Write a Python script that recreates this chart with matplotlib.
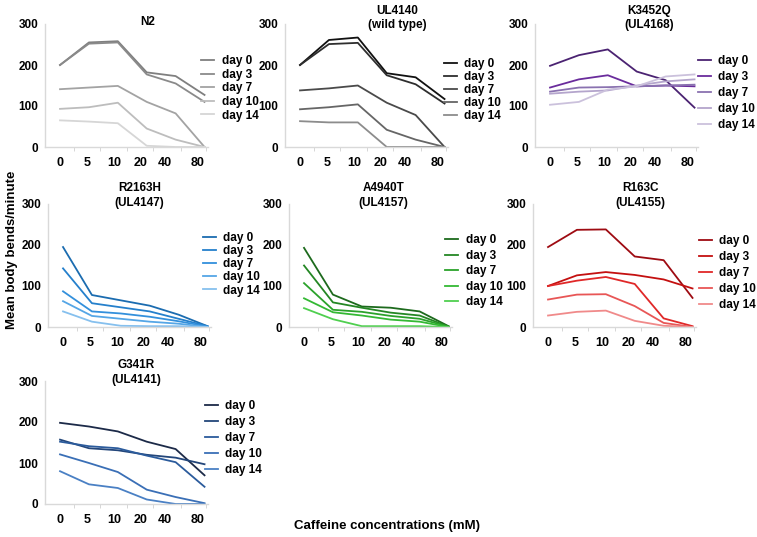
import matplotlib
matplotlib.use('Agg')
import matplotlib.pyplot as plt

plt.rcParams['font.family'] = ['Liberation Sans', 'DejaVu Sans']
plt.rcParams['font.weight'] = 'bold'

# caffeine concentrations (mM) and days
conc = ['0', '5', '10', '20', '40', '80']
days = ['day 0', 'day 3', 'day 7', 'day 10', 'day 14']

# mean body bends/minute, one list per day (day 0, 3, 7, 10, 14)
n2 = [[200, 255, 258, 182, 173, 127],
      [200, 252, 255, 177, 155, 110],
      [141, 145, 149, 110, 82, 0],
      [93, 97, 108, 45, 18, 0],
      [65, 62, 58, 3, 0, 0]]
ul4140 = [[200, 261, 267, 180, 170, 117],
          [200, 251, 254, 175, 153, 106],
          [138, 143, 150, 108, 78, 0],
          [92, 97, 104, 42, 18, 0],
          [63, 60, 60, 0, 0, 0]]
k3452q = [[198, 224, 238, 184, 163, 96],
          [145, 165, 175, 148, 150, 148],
          [135, 145, 146, 148, 150, 152],
          [130, 135, 138, 150, 160, 165],
          [103, 110, 140, 148, 172, 177]]
r2163h = [[195, 78, 65, 52, 30, 2],
          [143, 58, 48, 38, 20, 2],
          [87, 38, 33, 25, 14, 1],
          [63, 27, 20, 13, 8, 0],
          [38, 13, 3, 2, 2, 0]]
a4940t = [[193, 79, 50, 47, 38, 2],
          [150, 60, 47, 35, 28, 1],
          [107, 42, 37, 27, 20, 1],
          [70, 36, 28, 18, 13, 0],
          [46, 19, 2, 2, 2, 0]]
r163c = [[195, 237, 238, 172, 163, 71],
         [100, 126, 134, 127, 116, 94],
         [100, 113, 122, 105, 21, 2],
         [67, 79, 80, 51, 10, 0],
         [28, 37, 40, 15, 3, 0]]
g341r = [[198, 189, 177, 152, 134, 70],
         [157, 136, 131, 120, 113, 97],
         [152, 141, 136, 118, 102, 42],
         [121, 100, 78, 35, 17, 2],
         [80, 48, 39, 11, 0, 0]]

titles = ['N2', 'UL4140\n(wild type)', 'K3452Q\n(UL4168)',
          'R2163H\n(UL4147)', 'A4940T\n(UL4157)', 'R163C\n(UL4155)',
          'G341R\n(UL4141)']
panels = [n2, ul4140, k3452q, r2163h, a4940t, r163c, g341r]

colours = [
    ['#7f7f7f', '#8a8a8a', '#a3a3a3', '#bdbdbd', '#d6d6d6'],
    ['#111111', '#2e2e2e', '#4a4a4a', '#666666', '#8c8c8c'],
    ['#4b2372', '#6a2c9c', '#8a72b0', '#b4a5cc', '#cbc1dc'],
    ['#1b6cb0', '#2580cc', '#3390dc', '#55a6e6', '#86c0ee'],
    ['#1d6a1d', '#248724', '#2ba22b', '#34b934', '#4fcf4f'],
    ['#9e0b12', '#c41010', '#e02828', '#e85656', '#f08a8a'],
    ['#1c2a48', '#23467a', '#2b5b9c', '#3a6fb6', '#4a80c4'],
]

# layout (pixels in a 757 x 537 figure)
W, H = 757, 537
lefts = [45, 285, 535, 48, 289, 533, 45]
tops = [24, 24, 24, 204, 204, 204, 381]
aw, ah = 163, 123
title_x = [0.63, 0.69, 0.70, 0.56, 0.58, 0.66, 0.56]
title_y = [0.97, 0.94, 0.94, 0.96, 0.96, 0.96, 0.96]
leg_x = [0.96, 0.975, 1.0, 0.95, 0.96, 1.02, 0.98]
leg_y = [0.745, 0.72, 0.745, 0.77, 0.754, 0.745, 0.843]
leg_sp = [0.13, 0.08, 0.33, 0.09, 0.30, 0.34, 0.34]
tick_at = [0, 0.93, 1.86, 2.79, 3.61, 4.75]
minor_at = [0.47, 1.4, 2.33, 3.2, 4.18, 5.05]

fig = plt.figure(figsize=(W / 100, H / 100), dpi=100)

for i, data in enumerate(panels):
    ax = fig.add_axes([lefts[i] / W, 1 - (tops[i] + ah) / H, aw / W, ah / H])
    for j, vals in enumerate(data):
        ax.plot(range(len(conc)), vals, color=colours[i][j], lw=1.3, label=days[j])
    ax.set_xlim(-0.52, 5.12)
    ax.set_ylim(0, 300)
    ax.set_yticks([0, 100, 200, 300])
    ax.set_xticks(tick_at)
    ax.set_xticklabels(conc)
    ax.set_xticks(minor_at, minor=True)
    ax.tick_params(axis='x', which='major', length=0, pad=7, labelsize=9)
    ax.tick_params(axis='x', which='minor', length=3, color='#d0d0d0')
    ax.tick_params(axis='y', length=0, pad=5, labelsize=8.5)
    for s in ['top', 'right']:
        ax.spines[s].set_visible(False)
    for s in ['left', 'bottom']:
        ax.spines[s].set_color('#d9d9d9')
        ax.spines[s].set_linewidth(1)
    ax.patch.set_alpha(0)
    ax.text(title_x[i], title_y[i], titles[i], transform=ax.transAxes, ha='center',
            va='bottom', fontsize=8.5, fontweight='bold', linespacing=1.3)
    ax.legend(loc='upper left', bbox_to_anchor=(leg_x[i], leg_y[i]), frameon=False,
              fontsize=8.5, handlelength=1.1, handletextpad=0.6,
              labelspacing=leg_sp[i], borderpad=0, borderaxespad=0)

fig.text(12 / W, 1 - 250 / H, 'Mean body bends/minute', rotation=90,
         ha='center', va='center', fontsize=9.5, fontweight='bold')
fig.text(387 / W, 1 - 526 / H, 'Caffeine concentrations (mM)',
         ha='center', va='center', fontsize=9.5, fontweight='bold')

fig.savefig('out.png', dpi=100)
